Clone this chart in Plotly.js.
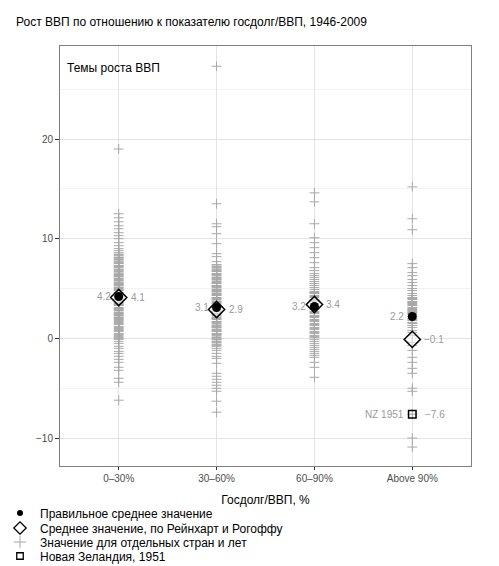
<!DOCTYPE html>
<html>
<head>
<meta charset="utf-8">
<script src="https://cdn.plot.ly/plotly-3.0.1.min.js"></script>
<style>html,body{margin:0;padding:0;background:#fff;}#chart{width:499px;height:566px;}</style>
</head>
<body>
<div id="chart"></div>
<script>
// ---- data ----
const categories = ["0–30%", "30–60%", "60–90%", "Above 90%"];

const growth0to30 = [19.0,
  12.5, 12.1, 11.7, 11.3, 11.0, 10.6, 10.3, 10.0, 9.6, 9.3, 9.0, 8.8, 8.6,
  8.4, 8.3, 8.1, 8.0, 7.9, 7.7, 7.6, 7.5, 7.3, 7.2, 7.1, 6.9, 6.8, 6.7, 6.5, 6.4, 6.3, 6.2,
  6.0, 5.9, 5.8, 5.6, 5.5, 5.4, 5.3, 5.1, 5.0, 4.9, 4.8, 4.6, 4.5, 4.4, 4.3, 4.1, 4.0, 3.9,
  3.8, 3.6, 3.5, 3.4, 3.3, 3.1, 3.0, 2.9, 2.8, 2.6, 2.5, 2.4, 2.3, 2.1, 2.0,
  8.45, 8.15, 7.85, 7.55, 7.25, 6.95, 6.65, 6.35, 6.05, 5.75, 5.45, 5.15, 4.85, 4.55, 4.25,
  3.95, 3.65, 3.35, 3.05, 2.75, 2.45, 2.15, 1.9, 1.7, 1.5, 1.2, 1.0, 0.8, 0.5, 0.3, 0.1,
  1.8, 1.6, 1.4, 1.1, 0.9, 0.7, 0.4, 0.2, 0.0, -0.1, -0.3, -0.5, -0.8, -1.0, -1.3, -1.5, -1.8,
  -2.1, -2.4, -2.9, -3.2, -4.0, -4.4, -6.2];

const growth30to60 = [27.3, 13.5, 11.5, 11.2, 10.5, 9.5, 8.5, 8.2, 7.7,
  7.4, 7.2, 7.1, 6.9, 6.8, 6.7, 6.5, 6.4, 6.3, 6.1, 6.0, 5.9, 5.7, 5.6, 5.5, 5.3, 5.2, 5.1,
  4.9, 4.8, 4.7, 4.5, 4.4, 4.3, 4.1, 4.0, 3.9, 3.7, 3.6, 3.5, 3.3, 3.2, 3.1, 2.9, 2.8, 2.7,
  2.5, 2.4, 2.3, 2.1, 2.0, 1.9, 1.7, 1.6, 1.5, 1.3, 1.2, 1.1, 0.9, 0.8, 0.7, 0.5, 0.4, 0.3,
  7.35, 7.05, 6.75, 6.45, 6.15, 5.85, 5.55, 5.25, 4.95, 4.65, 4.35, 4.05, 3.75, 3.45, 3.15,
  2.85, 2.55, 2.25, 1.95, 1.65, 1.35, 1.05, 0.75, 0.45, 0.15, -0.15, -0.45, -0.7,
  0.1, 0.0, -0.1, -0.3, -0.4, -0.6, -0.8,
  -1.0, -1.2, -1.5, -1.8, -2.0, -2.5, -3.5, -3.8, -4.1, -4.4, -4.7, -5.0, -5.3, -6.3, -7.4];

const growth60to90 = [14.6, 13.7, 11.5, 10.1, 9.6, 9.1, 8.6, 8.1, 7.6, 7.1, 6.8,
  6.5, 6.3, 6.1, 5.9, 5.7, 5.5, 5.3, 5.1, 4.9, 4.7, 4.5, 4.3, 4.1, 3.9, 3.7, 3.5, 3.3, 3.1,
  2.9, 2.7, 2.5, 2.3, 2.1, 1.9, 1.7, 1.5, 1.3, 1.1, 0.9, 0.7, 0.5, 0.3, 0.1, -0.1, -0.3,
  4.6, 4.2, 3.8, 3.4, 3.0, 2.6, 2.2, 1.8, 1.4, 1.0, 0.6, 0.2,
  -0.5, -0.7, -0.9, -1.1, -1.3, -1.5, -1.7, -1.9, -2.4, -2.9, -3.9];

const growthAbove90 = [15.2, 12.0, 10.9, 7.5, 7.1, 6.6, 6.3, 5.9, 5.6, 5.3, 5.0, 4.8, 4.5,
  4.3, 4.1, 3.9, 3.7, 3.5, 3.3, 3.1, 2.9, 2.8, 2.6, 2.4, 2.0, 1.8, 1.6, 1.3, 1.1, 0.8, 0.6,
  4.0, 3.6, 3.4, 3.0, 2.7, 2.5, 2.2, 1.9, 1.5,
  0.3, -0.4, -0.7, -1.2, -1.9, -2.4, -3.0, -3.5, -5.0, -5.3, -7.6, -10.0, -10.9];

const correctMeans = [4.2, 3.1, 3.2, 2.2];
const rrMeans = [4.1, 2.9, 3.4, -0.1];

const nzCategory = "Above 90%";
const nzValue = -7.6;
const nzLabel = "NZ 1951";

const legendNames = [
  "Правильное среднее значение",
  "Среднее значение, по Рейнхарт и Рогоффу",
  "Значение для отдельных стран и лет",
  "Новая Зеландия, 1951"
];
const titleText = "Рост ВВП по отношению к показателю госдолг/ВВП, 1946-2009";
const panelText = "Темы роста ВВП";
const xTitle = "Госдолг/ВВП, %";

// ---- build ----
const groups = [growth0to30, growth30to60, growth60to90, growthAbove90];
const crossX = [], crossY = [];
groups.forEach((arr, i) => arr.forEach(v => { crossX.push(categories[i]); crossY.push(v); }));

const fmt = v => (v < 0 ? "−" : "") + Math.abs(v).toFixed(1);
const FONT = "Liberation Sans, Arial, sans-serif";
const labelColor = "#9a9a9a";
const crossColor = "#a8a8a8";

const crossMarker = s => ({symbol: "cross-thin-open", size: s, color: crossColor, line: {color: crossColor, width: 1}});
const diamondMarker = (s, w) => ({symbol: "diamond", size: s, color: "rgba(255,255,255,0.55)", line: {color: "#000", width: w}});
const circleMarker = s => ({symbol: "circle", size: s, color: "#000"});
const squareMarker = (s, w) => ({symbol: "square-open", size: s, color: "#000", line: {color: "#000", width: w}});

const traces = [
  {type: "scatter", mode: "markers", x: crossX, y: crossY, name: legendNames[2],
   showlegend: false, marker: crossMarker(7), hoverinfo: "skip"},
  {type: "scatter", mode: "markers", x: categories, y: rrMeans, name: legendNames[1],
   showlegend: false, marker: diamondMarker(12.5, 1.5)},
  {type: "scatter", mode: "markers", x: categories, y: correctMeans, name: legendNames[0],
   showlegend: false, marker: circleMarker(9)},
  {type: "scatter", mode: "markers", x: [nzCategory], y: [nzValue], name: legendNames[3],
   showlegend: false, marker: squareMarker(7.5, 1.5)},
  // legend entries (no data drawn)
  {type: "scatter", mode: "markers", x: [null], y: [null], name: legendNames[0], legend: "legend",
   showlegend: true, marker: circleMarker(6)},
  {type: "scatter", mode: "markers", x: [null], y: [null], name: legendNames[1], legend: "legend2",
   showlegend: true, marker: diamondMarker(9.5, 1.3)},
  {type: "scatter", mode: "markers", x: [null], y: [null], name: legendNames[2], legend: "legend3",
   showlegend: true, marker: crossMarker(9)},
  {type: "scatter", mode: "markers", x: [null], y: [null], name: legendNames[3], legend: "legend4",
   showlegend: true, marker: squareMarker(6.5, 1.3)}
];

const annotations = [];
categories.forEach((c, i) => {
  annotations.push({x: c, y: correctMeans[i], xref: "x", yref: "y", text: fmt(correctMeans[i]),
    showarrow: false, xanchor: "right", yanchor: "middle", xshift: -6,
    font: {family: FONT, size: 10, color: labelColor}});
  annotations.push({x: c, y: rrMeans[i], xref: "x", yref: "y", text: fmt(rrMeans[i]),
    showarrow: false, xanchor: "left", yanchor: "middle", xshift: 10,
    font: {family: FONT, size: 10, color: labelColor}});
});
annotations.push({x: nzCategory, y: nzValue, xref: "x", yref: "y", text: nzLabel,
  showarrow: false, xanchor: "right", yanchor: "middle", xshift: -6,
  font: {family: FONT, size: 10, color: labelColor}});
annotations.push({x: nzCategory, y: nzValue, xref: "x", yref: "y", text: fmt(nzValue),
  showarrow: false, xanchor: "left", yanchor: "middle", xshift: 11,
  font: {family: FONT, size: 10, color: labelColor}});
annotations.push({x: 0.012, y: 0.948, xref: "paper", yref: "paper", text: panelText,
  showarrow: false, xanchor: "left", yanchor: "middle",
  font: {family: FONT, size: 12, color: "#000"}});

const legendBase = {
  xref: "container", yref: "container", x: 0.0, xanchor: "left", yanchor: "middle",
  bgcolor: "rgba(0,0,0,0)", borderwidth: 0,
  font: {family: FONT, size: 12, color: "#000"}
};
const legendYs = [513, 528, 542, 556];

const layout = {
  width: 499, height: 566,
  margin: {l: 60, r: 28, t: 46, b: 100, autoexpand: false},
  paper_bgcolor: "#fff", plot_bgcolor: "#fff",
  font: {family: FONT, color: "#000"},
  title: {text: titleText, xref: "container", x: 16/499, xanchor: "left",
          yref: "container", y: 1 - 22/566, yanchor: "middle",
          font: {family: FONT, size: 12, color: "#000"}},
  xaxis: {
    type: "category", categoryorder: "array", categoryarray: categories,
    range: [-0.6, 3.6], showgrid: true, gridcolor: "#e3e3e3", gridwidth: 1,
    zeroline: false, showline: true, mirror: true, linecolor: "#7f7f7f", linewidth: 1,
    ticks: "outside", ticklen: 3, tickcolor: "#333", tickwidth: 1, tickangle: 0,
    automargin: false,
    tickfont: {family: FONT, size: 10, color: "#4d4d4d"},
    title: {text: xTitle, font: {family: FONT, size: 12, color: "#000"}, standoff: 12}
  },
  yaxis: {
    range: [-12.8, 29.33], dtick: 10, tick0: 0, showgrid: true, gridcolor: "#e3e3e3", gridwidth: 1,
    minor: {dtick: 5, tick0: 0, showgrid: true, gridcolor: "#f3f3f3", gridwidth: 1, ticks: ""},
    zeroline: false, showline: true, mirror: true, linecolor: "#7f7f7f", linewidth: 1,
    ticks: "outside", ticklen: 4, tickcolor: "#333", tickwidth: 1, automargin: false,
    tickfont: {family: FONT, size: 10, color: "#4d4d4d"}
  },
  showlegend: true,
  legend: Object.assign({}, legendBase, {y: 1 - legendYs[0]/566}),
  legend2: Object.assign({}, legendBase, {y: 1 - legendYs[1]/566}),
  legend3: Object.assign({}, legendBase, {y: 1 - legendYs[2]/566}),
  legend4: Object.assign({}, legendBase, {y: 1 - legendYs[3]/566}),
  annotations: annotations
};

Plotly.newPlot("chart", traces, layout, {displayModeBar: false, staticPlot: true});
</script>
</body>
</html>
